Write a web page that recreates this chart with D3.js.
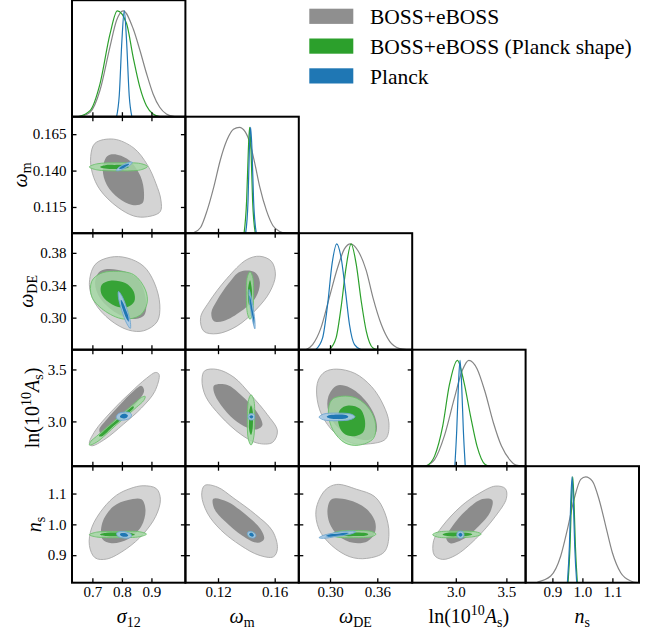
<!DOCTYPE html>
<html><head><meta charset="utf-8">
<script src="https://cdn.jsdelivr.net/npm/d3@7"></script>
<style>
body{margin:0;background:#fff}
svg{display:block}
text{font-family:"Liberation Serif","Times New Roman",serif;fill:#000}
</style>
</head><body>
<svg id="c" width="659" height="633"></svg>
<script>
// ---------------- data ----------------
const paramKeys = ["sigma12","omegam","omegaDE","lnAs","ns"];
const domains = [[0.631,1.015],[0.097,0.177],[0.2604,0.4043],[2.569,3.690],[0.8107,1.1887]];
const xTickValues = [[0.7,0.8,0.9],[0.12,0.16],[0.30,0.36],[3.0,3.5],[0.9,1.0,1.1]];
const xTickLabels = [["0.7","0.8","0.9"],["0.12","0.16"],["0.30","0.36"],["3.0","3.5"],["0.9","1.0","1.1"]];
const yTickValues = [[],[0.115,0.140,0.165],[0.30,0.34,0.38],[3.0,3.5],[0.9,1.0,1.1]];
const yTickLabels = [[],["0.115","0.140","0.165"],["0.30","0.34","0.38"],["3.0","3.5"],["0.9","1.0","1.1"]];
const axisLabels = [
  [{t:"σ",i:1},{t:"12",sub:1}],
  [{t:"ω",i:1},{t:"m",sub:1}],
  [{t:"ω",i:1},{t:"DE",sub:1}],
  [{t:"ln(10"},{t:"10",sup:1},{t:"A",i:1},{t:"s",sub:1},{t:")"}],
  [{t:"n",i:1},{t:"s",sub:1}]
];
const legendLabels = ["BOSS+eBOSS","BOSS+eBOSS (Planck shape)","Planck"];

// 1D marginals (value, relative density)
const margBOSS = [
  [[0.6584,0],[0.6921,0.041],[0.7258,0.25],[0.7596,0.66],[0.7820,0.91],[0.8045,1.0],[0.8382,0.83],[0.8607,0.63],[0.8831,0.41],[0.9056,0.215],[0.9281,0.089],[0.9506,0.025],[0.9787,0]],
  [[0.1030,0.006],[0.1077,0.054],[0.1123,0.213],[0.1170,0.435],[0.1216,0.689],[0.1263,0.879],[0.1309,0.981],[0.1351,1.0],[0.1391,0.959],[0.1426,0.848],[0.1460,0.657],[0.1495,0.435],[0.1542,0.213],[0.1588,0.070],[0.1635,0.016],[0.1681,0]],
  [[0.2694,0],[0.2779,0.048],[0.2885,0.206],[0.2991,0.492],[0.3098,0.778],[0.3183,0.952],[0.3260,1.0],[0.3353,0.937],[0.3460,0.746],[0.3545,0.492],[0.3651,0.238],[0.3757,0.079],[0.3885,0.01],[0.3970,0]],
  [[2.6935,0],[2.7903,0.063],[2.8871,0.286],[2.9839,0.635],[3.0645,0.905],[3.1290,1.0],[3.2097,0.921],[3.2903,0.698],[3.3710,0.413],[3.4516,0.19],[3.5323,0.063],[3.5968,0.01],[3.6613,0]],
  [[0.85,0.006],[0.8944,0.063],[0.9278,0.252],[0.95,0.503],[0.9722,0.786],[0.9944,0.975],[1.0111,1.0],[1.0333,0.959],[1.0556,0.786],[1.0778,0.535],[1.1,0.283],[1.1278,0.094],[1.1611,0.016],[1.1833,0]]
];
const margShape = [
  [[0.6528,0],[0.6921,0.057],[0.7258,0.31],[0.7596,0.78],[0.7843,1.0],[0.8157,0.88],[0.8382,0.56],[0.8607,0.28],[0.8831,0.104],[0.9056,0.025],[0.9281,0]],
  [[0.1384,0],[0.1402,0.31],[0.1414,0.78],[0.1423,1.0],[0.1433,0.78],[0.1444,0.31],[0.1463,0]],
  [[0.2991,0],[0.3077,0.111],[0.3140,0.397],[0.3204,0.778],[0.3268,1.0],[0.3332,0.81],[0.3396,0.46],[0.3460,0.175],[0.3545,0.016],[0.3609,0]],
  [[2.7097,0],[2.7903,0.095],[2.8710,0.381],[2.9355,0.762],[3.0161,1.0],[3.0806,0.794],[3.1452,0.476],[3.2097,0.19],[3.2903,0.016],[3.3387,0]],
  [[0.9522,0],[0.9589,0.346],[0.9633,0.755],[0.9678,1.0],[0.9722,0.755],[0.9767,0.346],[0.9833,0]]
];
const margPlanck = [
  [[0.782,0],[0.791,0.2],[0.800,0.72],[0.8079,1.0],[0.8157,0.72],[0.8247,0.2],[0.8337,0]],
  [[0.1395,0],[0.1412,0.31],[0.1421,0.78],[0.1430,1.0],[0.1440,0.78],[0.1451,0.31],[0.1470,0]],
  [[0.2821,0.003],[0.2906,0.111],[0.2970,0.429],[0.3026,0.81],[0.3085,1.0],[0.3140,0.873],[0.3196,0.556],[0.3247,0.238],[0.3311,0.048],[0.3396,0]],
  [[2.9903,0],[3.0097,0.349],[3.0258,0.762],[3.0419,1.0],[3.0581,0.762],[3.0742,0.349],[3.0935,0]],
  [[0.95,0],[0.9567,0.346],[0.9611,0.755],[0.9656,1.0],[0.9700,0.755],[0.9744,0.346],[0.9811,0]]
];

// 2D contours, key "row,col": [95% outline, 68% outline], points (x = col param, y = row param)
const contBOSS = {
  "1,0": [[[0.6943,0.1496],[0.7091,0.1588],[0.7720,0.1616],[0.8406,0.1554],[0.8863,0.1439],[0.9149,0.1313],[0.9320,0.1198],[0.9297,0.1118],[0.8863,0.1083],[0.8406,0.1088],[0.7834,0.1152],[0.7263,0.1267],[0.7000,0.1382]],
          [[0.7491,0.1496],[0.7720,0.1512],[0.8234,0.1473],[0.8634,0.1359],[0.8749,0.1244],[0.8691,0.1175],[0.8349,0.1164],[0.7891,0.1210],[0.7491,0.1301],[0.7354,0.1405]]],
  "2,0": [[[0.7091,0.3655],[0.7602,0.3746],[0.8170,0.3738],[0.8739,0.3634],[0.9102,0.3427],[0.9284,0.3157],[0.9193,0.2950],[0.8739,0.2838],[0.8227,0.2846],[0.7602,0.2971],[0.7091,0.3178],[0.6898,0.3406]],
          [[0.7261,0.3572],[0.7830,0.3593],[0.8511,0.3489],[0.8795,0.3261],[0.8761,0.3033],[0.8398,0.2983],[0.7830,0.3054],[0.7261,0.3240],[0.7091,0.3427]]],
  "2,1": [[[0.1402,0.3716],[0.1495,0.3758],[0.1577,0.3695],[0.1605,0.3526],[0.1565,0.3316],[0.1472,0.3105],[0.1333,0.2895],[0.1193,0.2802],[0.1100,0.2832],[0.1077,0.3000],[0.1135,0.3189],[0.1263,0.3484]],
          [[0.1356,0.3568],[0.1460,0.3560],[0.1495,0.3442],[0.1467,0.3253],[0.1367,0.3084],[0.1240,0.2958],[0.1170,0.2958],[0.1153,0.3063],[0.1193,0.3211],[0.1274,0.3421]]],
  "3,0": [[[0.9146,3.4715],[0.9258,3.4525],[0.9112,3.2880],[0.8663,3.1297],[0.8045,2.9715],[0.7427,2.8291],[0.6978,2.7658],[0.6899,2.7880],[0.7090,2.9082],[0.7652,3.0981],[0.8270,3.2722],[0.8831,3.4146]],
          [[0.8663,3.3418],[0.8753,3.2975],[0.8551,3.1930],[0.8157,3.0665],[0.7596,2.9399],[0.7281,2.8829],[0.7236,2.9241],[0.7483,3.0190],[0.7933,3.1614],[0.8382,3.2880]]],
  "3,1": [[[0.1106,3.4873],[0.1195,3.5000],[0.1313,3.4240],[0.1431,3.2560],[0.1548,3.0660],[0.1619,2.9082],[0.1584,2.7975],[0.1478,2.7911],[0.1360,2.8766],[0.1219,3.0506],[0.1113,3.2405],[0.1087,3.3987]],
          [[0.1172,3.3449],[0.1266,3.3513],[0.1360,3.2563],[0.1478,3.0823],[0.1513,2.9620],[0.1478,2.9241],[0.1407,2.9399],[0.1313,3.0190],[0.1219,3.1614],[0.1172,3.2785]]],
  "3,2": [[[0.2937,3.4777],[0.3084,3.5032],[0.3317,3.4618],[0.3528,3.3344],[0.3676,3.1592],[0.3748,2.9841],[0.3706,2.8312],[0.3486,2.7834],[0.3275,2.7930],[0.3063,2.8885],[0.2894,3.0637],[0.2831,3.2548],[0.2852,3.3981]],
          [[0.2979,3.2389],[0.3084,3.3439],[0.3253,3.3248],[0.3444,3.2070],[0.3570,3.0478],[0.3591,2.9045],[0.3507,2.8248],[0.3317,2.8408],[0.3106,2.9363],[0.2979,3.0955]]],
  "4,0": [[[0.8270,1.1158],[0.8719,1.1253],[0.9169,1.1158],[0.9303,1.0811],[0.9146,1.0263],[0.8719,0.9684],[0.8157,0.9211],[0.7483,0.8874],[0.7090,0.8916],[0.6899,0.9316],[0.6978,0.9895],[0.7371,1.0526],[0.7820,1.0947]],
          [[0.8213,1.0789],[0.8663,1.0811],[0.8798,1.0474],[0.8663,0.9947],[0.8213,0.9526],[0.7652,0.9389],[0.7337,0.9526],[0.7337,1.0053],[0.7708,1.0579]]],
  "4,1": [[[0.1106,1.1263],[0.1195,1.1211],[0.1313,1.0842],[0.1466,1.0316],[0.1584,0.9789],[0.1619,0.9211],[0.1591,0.8947],[0.1489,0.9000],[0.1360,0.9316],[0.1219,0.9821],[0.1125,1.0368],[0.1085,1.0947]],
          [[0.1167,1.0832],[0.1266,1.0737],[0.1395,1.0316],[0.1501,0.9842],[0.1525,0.9526],[0.1482,0.9400],[0.1372,0.9632],[0.1247,1.0105],[0.1172,1.0526]]],
  "4,2": [[[0.2937,1.1105],[0.3084,1.1295],[0.3338,1.1137],[0.3570,1.0895],[0.3697,1.0368],[0.3748,0.9684],[0.3689,0.9105],[0.3465,0.8895],[0.3253,0.8947],[0.3021,0.9316],[0.2861,0.9842],[0.2823,1.0474]],
          [[0.3021,1.0811],[0.3232,1.0789],[0.3452,1.0526],[0.3570,1.0105],[0.3570,0.9737],[0.3477,0.9453],[0.3296,0.9400],[0.3106,0.9632],[0.2992,1.0053],[0.2970,1.0526]]],
  "4,3": [[[3.3922,1.1242],[3.4902,1.1158],[3.5000,1.0842],[3.3922,1.0263],[3.1961,0.9526],[3.0000,0.9000],[2.8693,0.8863],[2.7876,0.9000],[2.7810,0.9474],[2.8693,0.9947],[3.0490,1.0579],[3.2288,1.1000]],
          [[3.2614,1.0821],[3.3595,1.0789],[3.3431,1.0421],[3.2288,0.9947],[3.0654,0.9505],[2.9444,0.9389],[2.9052,0.9558],[2.9673,0.9947],[3.0980,1.0442]]]
};
const contShape = {
  "1,0": [[[0.6897,0.1425],[0.7149,0.1446],[0.7891,0.1453],[0.8634,0.1448],[0.8863,0.1428],[0.8634,0.1405],[0.7891,0.1398],[0.7149,0.1405]],
          [[0.7263,0.1425],[0.7434,0.1437],[0.7743,0.1439],[0.8086,0.1437],[0.8234,0.1425],[0.8086,0.1414],[0.7743,0.1411],[0.7434,0.1414]]],
  "2,0": [[[0.6977,0.3448],[0.7261,0.3543],[0.7716,0.3572],[0.8398,0.3531],[0.8795,0.3344],[0.8852,0.3178],[0.8625,0.3033],[0.8057,0.2983],[0.7375,0.3095],[0.6977,0.3261]],
          [[0.7318,0.3406],[0.7602,0.3456],[0.8114,0.3427],[0.8398,0.3323],[0.8420,0.3199],[0.8170,0.3128],[0.7773,0.3145],[0.7398,0.3240],[0.7284,0.3323]]],
  "2,1": [[[0.1426,0.3568],[0.1444,0.3505],[0.1451,0.3274],[0.1442,0.3042],[0.1426,0.2979],[0.1409,0.3042],[0.1400,0.3274],[0.1407,0.3505]],
          [[0.1426,0.3463],[0.1437,0.3379],[0.1440,0.3295],[0.1433,0.3189],[0.1421,0.3160],[0.1412,0.3253],[0.1412,0.3358]]],
  "3,0": [[[0.8787,3.2405],[0.8742,3.2025],[0.8494,3.1361],[0.7820,2.9684],[0.7146,2.8006],[0.6899,2.7722],[0.6955,2.8101],[0.7146,2.8576],[0.7708,2.9968],[0.8382,3.1646],[0.8663,3.2310]],
          [[0.8382,3.1456],[0.8404,3.1329],[0.8157,3.0633],[0.7708,2.9525],[0.7315,2.8544],[0.7225,2.8608],[0.7371,2.9019],[0.7820,3.0127],[0.8270,3.1234]]],
  "3,1": [[[0.1433,3.2563],[0.1452,3.2089],[0.1459,3.0190],[0.1450,2.8291],[0.1433,2.7722],[0.1414,2.8291],[0.1407,3.0190],[0.1416,3.2089]],
          [[0.1433,3.1519],[0.1445,3.0981],[0.1447,3.0032],[0.1442,2.9082],[0.1433,2.8703],[0.1421,2.9082],[0.1419,3.0032],[0.1421,3.0981]]],
  "3,2": [[[0.3021,3.2070],[0.3148,3.2420],[0.3338,3.2229],[0.3507,3.1115],[0.3579,2.9682],[0.3549,2.8344],[0.3359,2.7707],[0.3190,2.7930],[0.3042,2.9108],[0.2979,3.0796]],
          [[0.3127,3.1115],[0.3232,3.1529],[0.3380,3.1210],[0.3444,3.0064],[0.3422,2.8981],[0.3296,2.8567],[0.3169,2.8885],[0.3106,2.9841]]],
  "4,0": [[[0.6899,0.9663],[0.7146,0.9747],[0.7865,0.9768],[0.8607,0.9758],[0.8831,0.9684],[0.8607,0.9600],[0.7865,0.9568],[0.7146,0.9589]],
          [[0.7258,0.9674],[0.7483,0.9726],[0.7876,0.9737],[0.8270,0.9716],[0.8438,0.9663],[0.8213,0.9621],[0.7876,0.9611],[0.7483,0.9621]]],
  "4,1": [[[0.1412,0.9670],[0.1419,0.9740],[0.1433,0.9750],[0.1449,0.9740],[0.1457,0.9670],[0.1449,0.9600],[0.1433,0.9585],[0.1419,0.9600]],
          [[0.1420,0.9665],[0.1425,0.9705],[0.1433,0.9715],[0.1442,0.9705],[0.1447,0.9665],[0.1442,0.9625],[0.1433,0.9615],[0.1425,0.9625]]],
  "4,2": [[[0.3021,0.9663],[0.3084,0.9758],[0.3300,0.9800],[0.3528,0.9768],[0.3583,0.9684],[0.3528,0.9600],[0.3300,0.9568],[0.3084,0.9589]],
          [[0.3148,0.9674],[0.3211,0.9726],[0.3338,0.9737],[0.3452,0.9716],[0.3486,0.9674],[0.3444,0.9632],[0.3338,0.9621],[0.3211,0.9621]]],
  "4,3": [[[2.7712,0.9663],[2.8203,0.9747],[3.0098,0.9779],[3.1961,0.9758],[3.2516,0.9684],[3.1961,0.9611],[3.0098,0.9568],[2.8203,0.9589]],
          [[2.8693,0.9674],[2.9183,0.9726],[3.0163,0.9737],[3.1209,0.9716],[3.1634,0.9674],[3.1209,0.9632],[3.0163,0.9611],[2.9183,0.9621]]]
};
const contPlanck = {
  "1,0": [[[0.7811,0.1400],[0.7913,0.1400],[0.8112,0.1417],[0.8293,0.1440],[0.8349,0.1457],[0.8247,0.1457],[0.8048,0.1440],[0.7867,0.1417]],
          [[0.7903,0.1411],[0.7966,0.1411],[0.8093,0.1422],[0.8208,0.1436],[0.8246,0.1446],[0.8183,0.1446],[0.8056,0.1436],[0.7941,0.1422]]],
  "2,0": [[[0.7886,0.3323],[0.8006,0.3264],[0.8172,0.3105],[0.8288,0.2941],[0.8284,0.2867],[0.8165,0.2927],[0.7999,0.3085],[0.7883,0.3249]],
          [[0.7966,0.3220],[0.8039,0.3185],[0.8144,0.3091],[0.8223,0.3006],[0.8227,0.2950],[0.8155,0.2985],[0.8049,0.3079],[0.7970,0.3176]]],
  "2,1": [[[0.1419,0.3347],[0.1431,0.3278],[0.1449,0.3108],[0.1461,0.2936],[0.1460,0.2861],[0.1448,0.2932],[0.1430,0.3103],[0.1418,0.3275]],
          [[0.1423,0.3274],[0.1432,0.3220],[0.1444,0.3096],[0.1456,0.2969],[0.1453,0.2916],[0.1449,0.2967],[0.1433,0.3093],[0.1423,0.3220]]],
  "3,0": [[[0.7809,3.0380],[0.7876,3.0158],[0.8067,3.0127],[0.8270,3.0316],[0.8326,3.0633],[0.8258,3.0854],[0.8067,3.0886],[0.7876,3.0728]],
          [[0.7933,3.0443],[0.7989,3.0316],[0.8067,3.0285],[0.8169,3.0380],[0.8202,3.0570],[0.8146,3.0696],[0.8067,3.0728],[0.7978,3.0633]]],
  "3,1": [[[0.1412,3.0443],[0.1419,3.0696],[0.1435,3.0759],[0.1452,3.0696],[0.1459,3.0443],[0.1452,3.0190],[0.1435,3.0127],[0.1419,3.0190]],
          [[0.1421,3.0443],[0.1426,3.0538],[0.1435,3.0601],[0.1445,3.0538],[0.1449,3.0443],[0.1445,3.0348],[0.1435,3.0285],[0.1426,3.0348]]],
  "3,2": [[[0.2861,3.0414],[0.2916,3.0701],[0.3089,3.0796],[0.3266,3.0701],[0.3317,3.0446],[0.3266,3.0191],[0.3089,3.0064],[0.2916,3.0159]],
          [[0.2958,3.0446],[0.3000,3.0605],[0.3097,3.0669],[0.3199,3.0605],[0.3232,3.0446],[0.3199,3.0287],[0.3097,3.0223],[0.3000,3.0287]]],
  "4,0": [[[0.7820,0.9705],[0.7910,0.9758],[0.8101,0.9758],[0.8292,0.9695],[0.8326,0.9621],[0.8236,0.9558],[0.8045,0.9558],[0.7854,0.9621]],
          [[0.7933,0.9684],[0.7989,0.9716],[0.8101,0.9716],[0.8191,0.9674],[0.8213,0.9632],[0.8157,0.9600],[0.8045,0.9600],[0.7955,0.9642]]],
  "4,1": [[[0.1407,0.9716],[0.1419,0.9768],[0.1442,0.9758],[0.1464,0.9684],[0.1466,0.9611],[0.1454,0.9558],[0.1431,0.9568],[0.1412,0.9632]],
          [[0.1421,0.9695],[0.1428,0.9726],[0.1442,0.9716],[0.1452,0.9663],[0.1452,0.9621],[0.1442,0.9600],[0.1431,0.9611],[0.1421,0.9653]]],
  "4,2": [[[0.2861,0.9568],[0.2916,0.9642],[0.3089,0.9737],[0.3266,0.9779],[0.3325,0.9758],[0.3275,0.9695],[0.3089,0.9611],[0.2916,0.9547]],
          [[0.2945,0.9611],[0.2979,0.9663],[0.3089,0.9695],[0.3211,0.9726],[0.3241,0.9716],[0.3199,0.9674],[0.3089,0.9632],[0.2979,0.9600]]],
  "4,3": [[[3.0098,0.9663],[3.0196,0.9747],[3.0458,0.9779],[3.0719,0.9747],[3.0817,0.9663],[3.0719,0.9579],[3.0458,0.9547],[3.0196,0.9579]],
          [[3.0261,0.9663],[3.0327,0.9705],[3.0458,0.9726],[3.0588,0.9705],[3.0654,0.9663],[3.0588,0.9621],[3.0458,0.9600],[3.0327,0.9621]]]
};

// ---------------- styles / layout ----------------
const datasets = [
  {marg: margBOSS,   cont: contBOSS,   line:"#858585", light:"#d4d4d4", lightOp:1,    edge:"#a8a8a8", dark:"#8c8c8c", darkOp:1,    legend:"#8f8f8f"},
  {marg: margShape,  cont: contShape,  line:"#2ca02c", light:"#a3d8a3", lightOp:0.82, edge:"#6cc06c", dark:"#2ca02c", darkOp:0.92, legend:"#2ca02c"},
  {marg: margPlanck, cont: contPlanck, line:"#1f77b4", light:"#a7c9e4", lightOp:0.9,  edge:"#6fa6d0", dark:"#1f77b4", darkOp:1,    legend:"#1f77b4"}
];
const L = 72, T = 0.2, CW = 113.4, RH = 116.5, N = 5;
const TICK = 4.5;

const svg = d3.select("#c");
const xs = domains.map((d,i)=>d3.scaleLinear().domain(d).range([L+i*CW, L+(i+1)*CW]));
const ys = domains.map((d,i)=>d3.scaleLinear().domain(d).range([T+(i+1)*RH, T+i*RH]));
const defs = svg.append("defs");

function panel(r,c){
  const x0 = L+c*CW, y0 = T+r*RH;
  const id = `clip-${r}-${c}`;
  defs.append("clipPath").attr("id",id).append("rect")
    .attr("x",x0).attr("y",y0).attr("width",CW).attr("height",RH);
  const g = svg.append("g");
  const content = g.append("g").attr("clip-path",`url(#${id})`);
  return {g, content, x0, y0};
}

function styleAxis(sel){
  sel.select(".domain").remove();
  sel.selectAll(".tick line").attr("stroke","#000").attr("stroke-width",1.3);
}

for(let r=0;r<N;r++){
  for(let c=0;c<=r;c++){
    const p = panel(r,c);
    const x = xs[c];
    if(r===c){
      const yd = d3.scaleLinear().domain([0,1.1]).range([T+(r+1)*RH, T+r*RH]);
      const line = d3.line().x(d=>x(d[0])).y(d=>yd(d[1])).curve(d3.curveMonotoneX);
      datasets.forEach(ds=>{
        p.content.append("path").attr("d",line(ds.marg[r]))
          .attr("fill","none").attr("stroke",ds.line).attr("stroke-width",1.2);
      });
    } else {
      const y = ys[r];
      const area = d3.line().x(d=>x(d[0])).y(d=>y(d[1])).curve(d3.curveCatmullRomClosed.alpha(0.5));
      datasets.forEach(ds=>{
        const cc = ds.cont[`${r},${c}`];
        if(!cc) return;
        p.content.append("path").attr("d",area(cc[0]))
          .attr("fill",ds.light).attr("fill-opacity",ds.lightOp)
          .attr("stroke",ds.edge).attr("stroke-width",0.9);
        p.content.append("path").attr("d",area(cc[1]))
          .attr("fill",ds.dark).attr("fill-opacity",ds.darkOp);
      });
    }
    // frame
    p.g.append("rect").attr("x",p.x0).attr("y",p.y0).attr("width",CW).attr("height",RH)
      .attr("fill","none").attr("stroke","#000").attr("stroke-width",2);
    // ticks (inward)
    p.g.append("g").attr("transform",`translate(0,${p.y0+RH})`)
      .call(d3.axisBottom(x).tickValues(xTickValues[c]).tickSize(-TICK).tickFormat(""))
      .call(styleAxis);
    if(r!==c){
      p.g.append("g").attr("transform",`translate(0,${p.y0})`)
        .call(d3.axisTop(x).tickValues(xTickValues[c]).tickSize(-TICK).tickFormat(""))
        .call(styleAxis);
      p.g.append("g").attr("transform",`translate(${p.x0},0)`)
        .call(d3.axisLeft(ys[r]).tickValues(yTickValues[r]).tickSize(-TICK).tickFormat(""))
        .call(styleAxis);
      p.g.append("g").attr("transform",`translate(${p.x0+CW},0)`)
        .call(d3.axisRight(ys[r]).tickValues(yTickValues[r]).tickSize(-TICK).tickFormat(""))
        .call(styleAxis);
    }
  }
}

// tick labels
for(let c=0;c<N;c++){
  const g = svg.append("g").attr("transform",`translate(0,${T+N*RH})`)
    .call(d3.axisBottom(xs[c]).tickValues(xTickValues[c]).tickSize(0).tickPadding(4)
      .tickFormat((d,i)=>xTickLabels[c][i]));
  g.select(".domain").remove();
  g.attr("font-family",null).attr("font-size",null);
  g.selectAll("text").attr("font-size",15).attr("fill","#000");
}
for(let r=1;r<N;r++){
  const g = svg.append("g").attr("transform",`translate(${L},0)`)
    .call(d3.axisLeft(ys[r]).tickValues(yTickValues[r]).tickSize(0).tickPadding(5.5)
      .tickFormat((d,i)=>yTickLabels[r][i]));
  g.select(".domain").remove();
  g.attr("font-family",null).attr("font-size",null);
  g.selectAll("text").attr("font-size",15).attr("fill","#000");
}

// math-like labels
function mathText(sel, parts, fs){
  let cur = 0;
  parts.forEach(pt=>{
    const shift = pt.sub ? 0.22*fs : (pt.sup ? -0.42*fs : 0);
    sel.append("tspan").text(pt.t)
      .attr("font-size", (pt.sub||pt.sup) ? fs*0.7 : fs)
      .attr("font-style", pt.i ? "italic" : "normal")
      .attr("dy", shift-cur);
    cur = shift;
  });
}
const LFS = 20;
for(let c=0;c<N;c++){
  const t = svg.append("text").attr("x", L+c*CW+CW/2).attr("y",623).attr("text-anchor","middle");
  mathText(t, axisLabels[c], LFS);
}
const yLabelX = [0,27,33,39,40.5];
for(let r=1;r<N;r++){
  const cy = T+r*RH+RH/2;
  const t = svg.append("text").attr("text-anchor","middle")
    .attr("transform",`translate(${yLabelX[r]},${cy}) rotate(-90)`);
  mathText(t, axisLabels[r], LFS);
}

// legend
const lg = svg.append("g");
legendLabels.forEach((lab,i)=>{
  const yTop = 8.7 + i*29.8;
  lg.append("rect").attr("x",309.3).attr("y",yTop).attr("width",44).attr("height",15.2)
    .attr("fill",datasets[i].legend);
  lg.append("text").attr("x",370).attr("y",yTop+15.3).attr("font-size",21.5).text(lab);
});
</script>
</body></html>
